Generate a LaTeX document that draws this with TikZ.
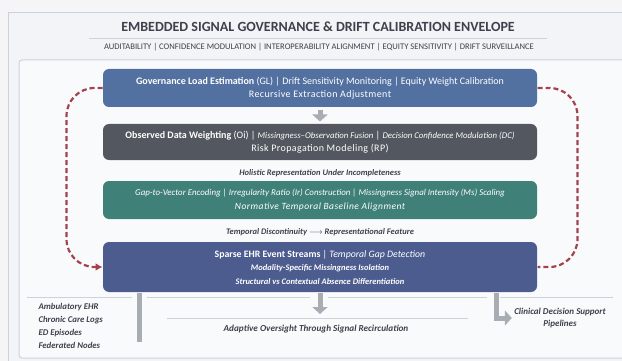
\documentclass[tikz,border=0pt]{standalone}
\usepackage{fontspec}
\setmainfont{Carlito}
\usetikzlibrary{positioning,arrows.meta,calc}

\definecolor{govblue}{HTML}{5270A0}
\definecolor{obsgray}{HTML}{53575F}
\definecolor{gapteal}{HTML}{3F8079}
\definecolor{ehrblue}{HTML}{4C5C8F}
\definecolor{loopred}{HTML}{A4434F}
\definecolor{pipegray}{HTML}{A8ACB3}
\definecolor{inkgray}{HTML}{3C414B}
\definecolor{rulegray}{HTML}{CDD1D9}
\definecolor{panelfill}{HTML}{F9FAFB}
\definecolor{framefill}{HTML}{F3F4F7}

\begin{document}
\begin{tikzpicture}[x=1pt, y=-1pt, line width=1pt,
		Stage/.style={
			rounded corners=6pt,
			minimum width=434pt,
			inner sep=0pt,
			text=white,
			align=center,
			font=\fontsize{10}{13.5}\selectfont
		},
		Bridge/.style={font=\fontsize{8.5}{10}\selectfont\bfseries\itshape, text=inkgray},
		Side/.style={font=\fontsize{8.8}{12.8}\selectfont\bfseries\itshape, text=inkgray, inner sep=2pt},
		Loop/.style={draw=loopred, line width=2.2pt, dash pattern=on 5pt off 3pt, rounded corners=28pt},
		Pipe/.style={draw=pipegray, line width=5pt},
		Flow/.style={Pipe, -{Triangle[length=7pt,width=15pt]}},
		Rule/.style={draw=rulegray, line width=0.8pt}
	]
	\useasboundingbox[fill=white!97!black!40!framefill] (0,0) rectangle (622,361);
	% frames
	\draw[draw=rulegray, fill=framefill] (8,13) rectangle (640,370);
	\draw[draw=rulegray, fill=panelfill, rounded corners=3pt] (19,60) rectangle (640,358);

	% heading
	\node[font=\fontsize{14}{16}\selectfont\bfseries, text=inkgray] (title) at (318,27) {EMBEDDED SIGNAL GOVERNANCE \& DRIFT CALIBRATION ENVELOPE};
	\draw[Rule] (89,38) -- (547,38);
	\node[font=\fontsize{8.6}{10}\selectfont, text=inkgray] (tags) at (319,47.5) {AUDITABILITY | CONFIDENCE MODULATION | INTEROPERABILITY ALIGNMENT | EQUITY SENSITIVITY | DRIFT SURVEILLANCE};

	% stacked stages
	\node[Stage, fill=govblue, minimum height=38pt] (gl) at (320,88)
		{\textbf{Governance Load Estimation} (GL) | Drift Sensitivity Monitoring | Equity Weight Calibration\\
		 \addfontfeature{LetterSpace=4}Recursive Extraction Adjustment};
	\node[Stage, fill=obsgray, minimum height=36pt] (obs) at (320,142)
		{\textbf{Observed Data Weighting} (Oi) | {\fontsize{8.8}{10}\selectfont\itshape Missingness--Observation Fusion} | {\fontsize{8.8}{10}\selectfont\itshape Decision Confidence Modulation (DC)}\\
		 {\addfontfeature{LetterSpace=4}Risk Propagation Modeling (RP)}};
	\node[Stage, fill=gapteal, minimum height=38pt] (gap) at (320,200)
		{{\fontsize{8.9}{10}\selectfont\itshape Gap-to-Vector Encoding | Irregularity Ratio (Ir) Construction | Missingness Signal Intensity (Ms) Scaling}\\
		 {\fontsize{9.5}{12}\selectfont\itshape\addfontfeature{LetterSpace=5}Normative Temporal Baseline Alignment}};
	\node[Stage, fill=ehrblue, minimum height=50pt, font=\fontsize{8.5}{13.5}\selectfont] (ehr) at (320,267)
		{{\fontsize{9.8}{12}\selectfont\textbf{Sparse EHR Event Streams} | \textit{Temporal Gap Detection}}\\
		 \textbf{\textit{Modality-Specific Missingness Isolation}}\\
		 \textbf{\textit{Structural vs Contextual Absence Differentiation}}};

	\node[Bridge, below=5pt of obs] (holistic) {Holistic Representation Under Incompleteness};
	\node[Bridge, below=5pt of gap] (disc) {Temporal Discontinuity $\longrightarrow$ Representational Feature};

	\draw[Flow, shorten <=3pt, shorten >=2pt] (gl) -- (obs);

	% recirculation loop
	\draw[Loop, -{Latex[length=7pt,width=8pt]}] (gl.west) -- ++(-36,0) |- (ehr.west);
	\draw[Loop] (gl.east) -- ++(40,0) |- (ehr.east);

	% outputs below the streams
	\draw[Rule] (27,297) -- (132,297);
	\draw[Rule] (147,297) -- (310,297);
	\draw[Rule] (328,297) -- (487,297);
	\draw[Rule] (500,297) -- (613,297);
	\draw[Rule] (167,318) -- (468,318);

	\node[Side, anchor=north west, align=left] (sources) at (36,301)
		{Ambulatory EHR\\Chronic Care Logs\\ED Episodes\\Federated Nodes};
	\node[Side, font=\fontsize{9.2}{11}\selectfont\bfseries\itshape] (oversight) at (316,329) {Adaptive Oversight Through Signal Recirculation};
	\node[Side, align=center, font=\fontsize{9}{11.5}\selectfont\bfseries\itshape] (cds) at (560,318) {Clinical Decision Support\\Pipelines};

	\coordinate (feedend) at (139.5,342);
	\coordinate (downend) at (320,314);
	\coordinate (elbow) at (496,0);
	\draw[Pipe] (ehr.south -| feedend) -- (feedend);
	\draw[Flow] (ehr.south) -- (downend);
	\draw[Flow] (ehr.south -| elbow) |- (cds.west);
\end{tikzpicture}
\end{document}
